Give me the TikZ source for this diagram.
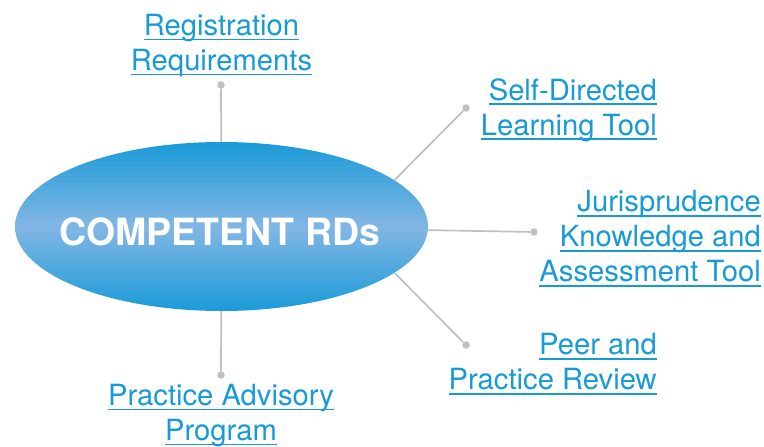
\documentclass[tikz,border=0pt]{standalone}
\usepackage{fontspec}
\setmainfont{TeX Gyre Heros}
\usetikzlibrary{shapes.geometric, positioning}

\definecolor{linkblue}{RGB}{22,155,215}
\definecolor{hubdark}{RGB}{26,155,216}
\definecolor{hublight}{RGB}{130,182,228}
\definecolor{wiregray}{RGB}{192,192,192}

% underlined link text, rule at a fixed depth
\newcommand{\ulk}[1]{\setbox0\hbox{#1}\rlap{\rule[-4.6pt]{\wd0}{1.5pt}}\box0}

\begin{document}
\begin{tikzpicture}[x=1pt, y=-1pt,
		hub/.style={ellipse, inner sep=0pt, minimum width=413pt, minimum height=169pt,
			top color=hubdark, bottom color=hubdark, middle color=hublight},
		hubtext/.style={text=white, inner sep=0pt, font=\fontsize{37.5}{44}\selectfont\bfseries},
		wire/.style={draw=wiregray, line width=1.7pt},
		dot/.style={circle, fill=wiregray, inner sep=0pt, minimum size=7.5pt},
		topic/.style={text=linkblue, inner sep=0pt, font=\fontsize{29.2}{35}\selectfont}]
			\useasboundingbox (0,0) rectangle (764,447);

			% Draw the centre ellipse
			\node[hub] (rd) at (221.5,226.5) {};
			\node[hubtext, anchor=base] (rdtext) at (220,245) {COMPETENT RDs};

			% Draw the end dots
			\node[dot] (regdot) at (221,85) {};
			\node[dot] (sdldot) at (466,108) {};
			\node[dot] (jatdot) at (534,232) {};
			\node[dot] (prrdot) at (466,345) {};
			\node[dot] (padot) at (221,375) {};

			% Draw the wires from the ellipse to the dots
			\draw[wire] (rd) -- (regdot);
			\draw[wire] (rd.15) -- (sdldot);
			\draw[wire] (rd.-1.6) -- (jatdot);
			\draw[wire] (rd.-15) -- (prrdot);
			\draw[wire] (rd) -- (padot);

			% Draw the labels
			\node[topic, anchor=north, align=center] (reg) at (221.5,14) {\ulk{Registration}\\\ulk{Requirements}};
			\node[topic, anchor=north east, align=right] (sdl) at (657,78) {\ulk{Self-Directed}\\\ulk{Learning Tool}};
			\node[topic, anchor=north east, align=right] (jat) at (761,190.5) {\ulk{Jurisprudence}\\\ulk{Knowledge and}\\\ulk{Assessment Tool}};
			\node[topic, anchor=north east, align=right] (prr) at (657,333.5) {\ulk{Peer and}\\\ulk{Practice Review}};
			\node[topic, anchor=north, align=center] (pa) at (221,384) {\ulk{Practice Advisory}\\\ulk{Program}};

		\end{tikzpicture}
\end{document}
